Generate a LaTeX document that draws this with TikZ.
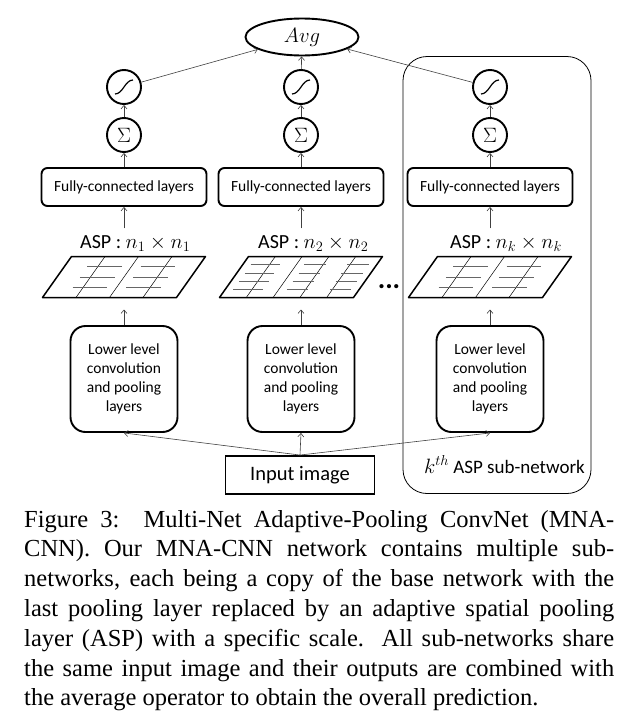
\documentclass[tikz,border=0pt]{standalone}
\usepackage{fontspec}
\setmainfont{Liberation Serif}
\newfontfamily\diafont{Carlito}
\usetikzlibrary{arrows.meta,shapes.geometric}
\newcommand{\bigmath}[1]{{\fontsize{22.5}{24}\selectfont$#1$}}
\begin{document}
\begin{tikzpicture}[x=1pt,y=-1pt,
  arr/.style={draw=black!75, line width=0.6pt, -{Straight Barb[length=3.5pt,width=6pt]}},
  fcbox/.style={draw, line width=1.9pt, rounded corners=6pt, minimum width=165pt, minimum height=38pt, inner sep=0pt, font=\diafont\fontsize{15.5}{18}\selectfont},
  lowbox/.style={draw, line width=1.9pt, rounded corners=15pt, minimum width=107pt, minimum height=106pt, inner sep=0pt, align=center, font=\diafont\fontsize{15.5}{19}\selectfont},
  unit/.style={circle, draw, line width=1.9pt, minimum size=34pt, inner sep=0pt},
  sigm/.style={unit, path picture={\draw[line width=1.2pt] ([shift={(-9pt,-7pt)}]path picture bounding box.center) .. controls ([shift={(-1pt,-7pt)}]path picture bounding box.center) and ([shift={(1pt,7pt)}]path picture bounding box.center) .. ([shift={(9pt,7pt)}]path picture bounding box.center);}},
  sumu/.style={unit, font=\fontsize{22}{22}\selectfont},
  asplab/.style={anchor=base west, inner sep=0pt, font=\diafont\fontsize{20}{22}\selectfont},
  gridA/.pic={
    \draw[line width=1.5pt, line join=round] (-52.5,-20.5) -- (81.5,-20.5) -- (52.5,20.5) -- (-81.5,20.5) -- cycle;
    \foreach \u in {0.25,0.5,0.75} \draw[line width=0.5pt] ({-52.5+\u*134},-20.5) -- ({-81.5+\u*134},20.5);
    \foreach \v in {0.25,0.5,0.75} \foreach \a/\b in {0.17/0.43,0.57/0.83} \draw[black!60,line width=0.6pt] ({-52.5+\a*134-\v*29},{-20.5+\v*41}) -- ({-52.5+\b*134-\v*29},{-20.5+\v*41});
    \coordinate (-bot) at (0,20.5);
  },
  gridB/.pic={
    \draw[line width=1.5pt, line join=round] (-52.5,-20.5) -- (81.5,-20.5) -- (52.5,20.5) -- (-81.5,20.5) -- cycle;
    \foreach \u in {0.2,0.4,0.6,0.8} \draw[line width=0.5pt] ({-52.5+\u*134},-20.5) -- ({-81.5+\u*134},20.5);
    \foreach \v in {0.2,0.4,0.6,0.8} \foreach \a/\b in {0.06/0.28,0.46/0.62,0.78/0.94} \draw[black!60,line width=0.6pt] ({-52.5+\a*134-\v*29},{-20.5+\v*41}) -- ({-52.5+\b*134-\v*29},{-20.5+\v*41});
    \coordinate (-bot) at (0,20.5);
  }
]
\useasboundingbox (0,0) rectangle (640,723);

% sub-network frame
\node[draw, line width=0.8pt, rounded corners=24pt, minimum width=188pt, minimum height=437pt, inner sep=0pt] (sub) at (497,275) {};
\node[anchor=base east, inner sep=0pt, font=\diafont\fontsize{19}{20}\selectfont] (klab) at (585,473) {\bigmath{k^{th}} ASP sub-network};

% top average node
\node[ellipse, draw, line width=1.9pt, minimum width=113pt, minimum height=37pt, inner sep=0pt, font=\fontsize{22}{22}\selectfont] (avg) at (302,37) {$Avg$};

% input
\node[draw, line width=1.9pt, minimum width=149pt, minimum height=38pt, inner sep=0pt, font=\diafont\fontsize{20.5}{22}\selectfont] (inp) at (300,475) {Input image};

\foreach \i/\x in {1/124,2/301,3/490}{
  \node[sigm] (s\i) at (\x,87) {};
  \node[sumu] (m\i) at (\x,135) {$\Sigma$};
  \node[fcbox] (fc\i) at (\x,187) {Fully-connected layers};
  \node[lowbox] (low\i) at (\x,379) {Lower level\\convolution\\and pooling\\layers};
}

\pic (g1) at (124,277) {gridA};
\pic (g2) at (301,277) {gridB};
\pic (g3) at (490,277) {gridA};

\node[asplab] (asp1) at (80,248.5) {ASP : \bigmath{n_1\times n_1}};
\node[asplab] (asp2) at (258,248.5) {ASP : \bigmath{n_2\times n_2}};
\node[asplab] (asp3) at (450,248.5) {ASP : \bigmath{n_k\times n_k}};

\node[anchor=base, inner sep=0pt, font=\diafont\bfseries\fontsize{28}{28}\selectfont] (dots) at (389,288) {...};

\foreach \i in {1,2,3}{
  \draw[arr] (s\i) -- (avg);
  \draw[arr] (m\i) -- (s\i);
  \draw[arr] (m\i.south |- fc\i.north) -- (m\i.south);
  \draw[arr, shorten <=7pt] (asp\i.north -| fc\i.south) -- (fc\i.south);
  \draw[arr, shorten >=12pt] (low\i.north) -- (g\i-bot);
  \draw[arr] (inp.north) -- (low\i.south);
}

% caption
\node[anchor=base west, inner sep=0pt, font=\fontsize{24.5}{29.8}\selectfont] (cap) at (24,527) {\begin{minipage}[t]{590pt}\fontsize{24.5}{29.8}\selectfont
\makebox[590pt][s]{Figure 3:\ \ Multi-Net Adaptive-Pooling ConvNet (MNA-}\\
\makebox[590pt][s]{CNN). Our MNA-CNN network contains multiple sub-}\\
\makebox[590pt][s]{networks, each being a copy of the base network with the}\\
\makebox[590pt][s]{last pooling layer replaced by an adaptive spatial pooling}\\
\makebox[590pt][s]{layer (ASP) with a specific scale.\ \ All sub-networks share}\\
\makebox[590pt][s]{the same input image and their outputs are combined with}\\
the average operator to obtain the overall prediction.
\end{minipage}};
\end{tikzpicture}
\end{document}
